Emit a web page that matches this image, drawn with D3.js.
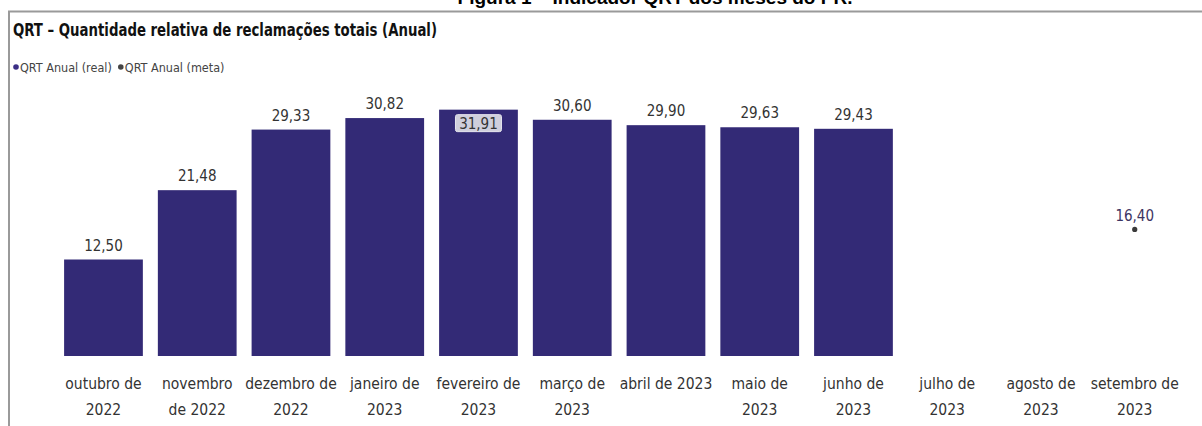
<!DOCTYPE html>
<html>
<head>
<meta charset="utf-8">
<script src="https://cdn.jsdelivr.net/npm/d3@7"></script>
<style>
  body { margin: 0; background: #fff; }
  svg text { font-family: "DejaVu Sans Condensed", "Liberation Sans Narrow", "Open Sans", sans-serif; }
</style>
</head>
<body>
<svg id="grafico" width="1202" height="426"></svg>
<script>
const meses = [
  ["outubro de", "2022"], ["novembro", "de 2022"], ["dezembro de", "2022"],
  ["janeiro de", "2023"], ["fevereiro de", "2023"], ["março de", "2023"],
  ["abril de 2023"], ["maio de", "2023"], ["junho de", "2023"],
  ["julho de", "2023"], ["agosto de", "2023"], ["setembro de", "2023"]
];
const qrtReal = [12.50, 21.48, 29.33, 30.82, 31.91, 30.60, 29.90, 29.63, 29.43, null, null, null];
const qrtMeta = [null, null, null, null, null, null, null, null, null, null, null, 16.40];
const legenda = ["QRT Anual (real)", "QRT Anual (meta)"];
const destaque = 4; // barra com rótulo destacado

const svg = d3.select("#grafico");
const fmt = v => v.toFixed(2).replace(".", ",");

// legenda do documento (cortada no topo)
svg.append("text")
  .attr("x", 655).attr("y", 4)
  .attr("text-anchor", "middle")
  .style("font-family", "'Liberation Sans', Arial, sans-serif")
  .style("font-weight", "bold").style("font-size", "19px")
  .attr("fill", "#000")
  .text("Figura 1 – Indicador QRT dos meses do PR.");

// moldura
svg.append("path")
  .attr("d", "M9,426 L9,11.5 L1202,11.5")
  .attr("fill", "none").attr("stroke", "#9a9a9a").attr("stroke-width", 2);

svg.append("text")
  .attr("x", 13).attr("y", 36)
  .attr("textLength", 424).attr("lengthAdjust", "spacingAndGlyphs")
  .style("font-weight", "bold").style("font-size", "17px")
  .attr("fill", "#111")
  .text("QRT – Quantidade relativa de reclamações totais (Anual)");

const corLeg = ["#3b2f86", "#444"];
let lx = 16;
const leg = svg.append("g");
legenda.forEach((t, i) => {
  leg.append("circle").attr("cx", lx).attr("cy", 67).attr("r", 2.8).attr("fill", corLeg[i]);
  const tx = leg.append("text").attr("x", lx + 4).attr("y", 72)
    .style("font-size", "12.5px").attr("fill", "#444").text(t);
  lx += tx.node().getComputedTextLength() + 13;
});

const x = d3.scaleBand()
  .domain(d3.range(meses.length))
  .range([56.6, 1181.6])
  .paddingInner(0.16).paddingOuter(0.08);
const y = d3.scaleLinear().domain([0, 40]).range([356, 47.2]);

const dadosReal = qrtReal.map((v, i) => ({i, v})).filter(d => d.v != null);

svg.selectAll("rect.barra")
  .data(dadosReal)
  .enter()
  .append("rect")
  .attr("class", "barra")
  .attr("x", d => x(d.i))
  .attr("y", d => y(d.v))
  .attr("width", x.bandwidth())
  .attr("height", d => y(0) - y(d.v))
  .attr("fill", "#332a76");

// rótulos de valor
svg.selectAll("text.valor")
  .data(dadosReal.filter(d => d.i !== destaque))
  .enter()
  .append("text")
  .attr("class", "valor")
  .attr("x", d => x(d.i) + x.bandwidth() / 2)
  .attr("y", d => y(d.v) - 9)
  .attr("text-anchor", "middle")
  .style("font-size", "15px")
  .attr("fill", "#333")
  .text(d => fmt(d.v));

const dd = dadosReal.find(d => d.i === destaque);
const cx = x(dd.i) + x.bandwidth() / 2;
svg.append("rect")
  .attr("x", cx - 23).attr("y", y(dd.v) + 5)
  .attr("width", 46).attr("height", 17).attr("rx", 2)
  .attr("fill", "#cfcfdc").attr("stroke", "#e6e6ee");
svg.append("text")
  .attr("x", cx).attr("y", y(dd.v) + 19)
  .attr("text-anchor", "middle")
  .style("font-size", "15px")
  .attr("fill", "#333")
  .text(fmt(dd.v));

// meta
const dadosMeta = qrtMeta.map((v, i) => ({i, v})).filter(d => d.v != null);
svg.selectAll("circle.meta")
  .data(dadosMeta)
  .enter()
  .append("circle")
  .attr("class", "meta")
  .attr("cx", d => x(d.i) + x.bandwidth() / 2)
  .attr("cy", d => y(d.v))
  .attr("r", 2.6)
  .attr("fill", "#3a3a3a");
svg.selectAll("text.meta")
  .data(dadosMeta)
  .enter()
  .append("text")
  .attr("class", "meta")
  .attr("x", d => x(d.i) + x.bandwidth() / 2)
  .attr("y", d => y(d.v) - 8)
  .attr("text-anchor", "middle")
  .style("font-size", "15px")
  .attr("fill", "#3d3563")
  .text(d => fmt(d.v));

// eixo x
const eixo = svg.append("g")
  .attr("transform", "translate(0,356)")
  .call(d3.axisBottom(x).tickSize(0).tickFormat(""));
eixo.select(".domain").remove();
eixo.selectAll(".tick").each(function(i) {
  const t = d3.select(this).append("text")
    .attr("text-anchor", "middle")
    .attr("fill", "#333")
    .style("font-size", "15.5px");
  meses[i].forEach((linha, k) => {
    t.append("tspan").attr("x", 0).attr("y", 33 + k * 26).text(linha);
  });
});
</script>
</body>
</html>
